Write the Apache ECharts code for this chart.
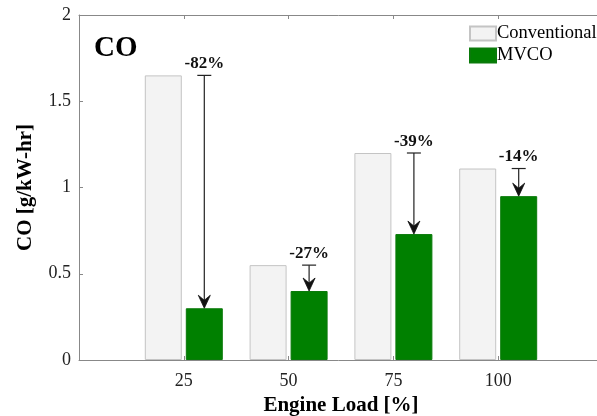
<!DOCTYPE html>
<html>
<head>
<meta charset="utf-8">
<script src="https://cdn.jsdelivr.net/npm/echarts@6/dist/echarts.min.js"></script>
<style>
  html, body { margin: 0; padding: 0; background: #fff; overflow: hidden; }
  #chart { width: 597px; height: 416px; }
</style>
</head>
<body>
<div id="chart"></div>
<script>
// Engine load points and CO emissions (g/kW-hr)
const engineLoad = [25, 50, 75, 100];
const conventional = [1.65, 0.55, 1.20, 1.11];
const mvco = [0.30, 0.40, 0.73, 0.95];
const reductionLabels = ['-82%', '-27%', '-39%', '-14%'];
const yTicks = [0, 0.5, 1, 1.5, 2];
const xRange = [0, 125];

const serif = '"Liberation Serif", "Times New Roman", serif';
const BAR_W = 37;
const BAR_GAP = 4;
const mvcoOffset = (BAR_W + BAR_GAP) / 2;

const chart = echarts.init(document.getElementById('chart'));

const arrowData = engineLoad.map((x, i) => [x, conventional[i], mvco[i], reductionLabels[i]]);

// Reduction arrow: capped line from the conventional level down to the MVCO bar
function renderArrow(params, api) {
  const x = api.value(0);
  const top = api.coord([x, api.value(1)]);
  const tip = api.coord([x, api.value(2)]);
  const cx = top[0] + mvcoOffset;
  const headH = 13, headW = 6;
  const stroke = { stroke: '#222', lineWidth: 1.2 };
  return {
    type: 'group',
    children: [
      { type: 'line', shape: { x1: cx, y1: top[1], x2: cx, y2: tip[1] - 4 }, style: stroke },
      { type: 'line', shape: { x1: cx - 7, y1: top[1], x2: cx + 7, y2: top[1] }, style: stroke },
      {
        type: 'polygon',
        shape: { points: [[cx, tip[1]], [cx - headW, tip[1] - headH], [cx, tip[1] - headH + 5], [cx + headW, tip[1] - headH]] },
        style: { fill: '#111', stroke: '#111', lineWidth: 0.8 }
      },
      {
        type: 'text',
        style: {
          text: api.value(3), x: cx, y: top[1] - 3,
          textAlign: 'center', textVerticalAlign: 'bottom',
          font: 'bold 17px ' + serif, fill: '#111'
        }
      }
    ]
  };
}

const loadAxisBase = {
  type: 'value', min: xRange[0], max: xRange[1], interval: 25,
  axisTick: { inside: true, length: 4, lineStyle: { color: '#888' } },
  splitLine: { show: false }
};

chart.setOption({
  animation: false,
  backgroundColor: '#fff',
  title: {
    text: 'CO', left: 89, top: 29,
    textStyle: { fontFamily: serif, fontWeight: 'bold', fontSize: 29, color: '#000' }
  },
  legend: {
    orient: 'vertical', left: 464, top: 19,
    itemWidth: 26, itemHeight: 14, itemGap: 3, icon: 'rect',
    data: ['Conventional', 'MVCO'],
    textStyle: { fontFamily: serif, fontSize: 18.5, color: '#000', padding: [0, 0, 0, -4] }
  },
  grid: { left: 79, right: -6, top: 15, bottom: 56, outerBoundsMode: 'none', containLabel: false },
  xAxis: [Object.assign({}, loadAxisBase, {
    name: 'Engine Load [%]', nameLocation: 'middle', nameGap: 34,
    nameTextStyle: { fontFamily: serif, fontWeight: 'bold', fontSize: 21, color: '#000' },
    axisLine: { lineStyle: { color: '#888' } },
    axisLabel: {
      fontFamily: serif, fontSize: 18, color: '#222', margin: 12,
      formatter: v => (engineLoad.indexOf(v) >= 0 ? String(v) : '')
    }
  }), Object.assign({}, loadAxisBase, {
    position: 'top',
    axisLine: { show: true, lineStyle: { color: '#888' } },
    axisLabel: { show: false }
  })],
  yAxis: {
    type: 'value', min: yTicks[0], max: yTicks[yTicks.length - 1], interval: 0.5,
    name: 'CO [g/kW-hr]', nameLocation: 'middle', nameGap: 43,
    nameTextStyle: { fontFamily: serif, fontWeight: 'bold', fontSize: 21, color: '#000' },
    axisLine: { show: true, lineStyle: { color: '#888' } },
    axisTick: { show: true, inside: true, length: 4, lineStyle: { color: '#888' } },
    axisLabel: { fontFamily: serif, fontSize: 18, color: '#222', margin: 8 },
    splitLine: { show: false }
  },
  series: [{
    name: 'Conventional', type: 'bar',
    barWidth: BAR_W, barGap: (BAR_GAP / BAR_W * 100).toFixed(1) + '%',
    data: engineLoad.map((x, i) => [x, conventional[i]]),
    itemStyle: { color: '#f3f3f3', borderColor: '#c4c4c4', borderWidth: 1 }
  }, {
    name: 'MVCO', type: 'bar',
    barWidth: BAR_W,
    data: engineLoad.map((x, i) => [x, mvco[i]]),
    itemStyle: { color: '#008000', borderColor: '#0a7a0a', borderWidth: 1 }
  }, {
    type: 'custom', renderItem: renderArrow,
    data: arrowData, z: 5, silent: true
  }]
});
</script>
</body>
</html>
